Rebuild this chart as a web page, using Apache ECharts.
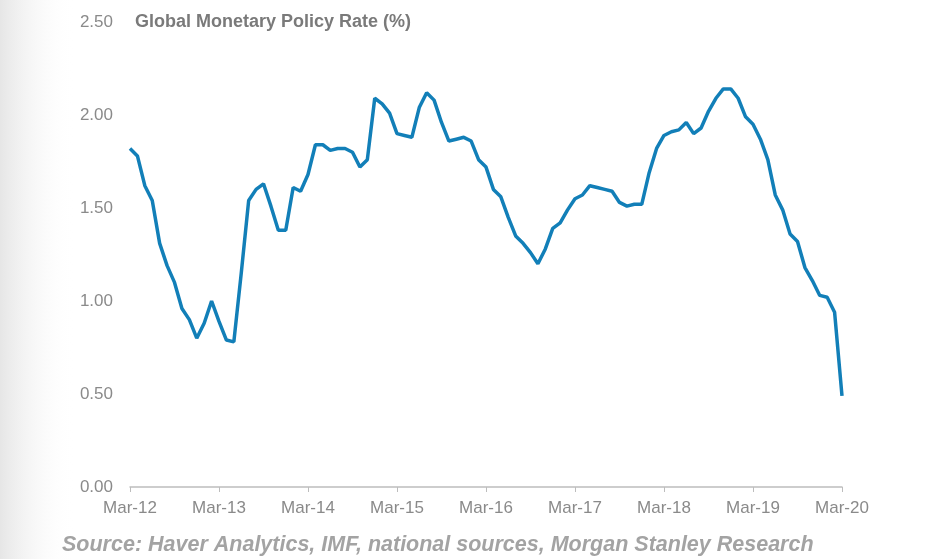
<!DOCTYPE html>
<html>
<head>
<meta charset="utf-8">
<script src="https://cdn.jsdelivr.net/npm/echarts@6/dist/echarts.min.js"></script>
<style>
  html, body { margin: 0; padding: 0; background: #fff; }
  #main { width: 928px; height: 559px; }
</style>
</head>
<body>
<div id="main"></div>
<script>
const monthNames = ['Jan', 'Feb', 'Mar', 'Apr', 'May', 'Jun', 'Jul', 'Aug', 'Sep', 'Oct', 'Nov', 'Dec']

// monthly, Mar-12 .. Mar-20
const rates = [
  1.82, 1.78, 1.62, 1.54, 1.31, 1.19, 1.10, 0.96, 0.90, 0.80, 0.88, 1.00,
  0.89, 0.79, 0.78, 1.15, 1.54, 1.60, 1.63, 1.51, 1.38, 1.38, 1.61, 1.59,
  1.68, 1.84, 1.84, 1.81, 1.82, 1.82, 1.80, 1.72, 1.76, 2.09, 2.06, 2.01,
  1.90, 1.89, 1.88, 2.04, 2.12, 2.08, 1.96, 1.86, 1.87, 1.88, 1.86, 1.76,
  1.72, 1.60, 1.56, 1.45, 1.35, 1.31, 1.26, 1.20, 1.28, 1.39, 1.42, 1.49,
  1.55, 1.57, 1.62, 1.61, 1.60, 1.59, 1.53, 1.51, 1.52, 1.52, 1.69, 1.82,
  1.89, 1.91, 1.92, 1.96, 1.90, 1.93, 2.02, 2.09, 2.14, 2.14, 2.09, 1.99,
  1.95, 1.87, 1.76, 1.57, 1.49, 1.36, 1.32, 1.18, 1.11, 1.03, 1.02, 0.94,
  0.49
]

const titleText = 'Global Monetary Policy Rate (%)'
const sourceText = 'Source: Haver Analytics, IMF, national sources, Morgan Stanley Research'

// build month labels starting at Mar-12
const months = rates.map((v, i) => {
    const m = (2 + i) % 12
    const y = 12 + Math.floor((2 + i) / 12)
    return monthNames[m] + '-' + y
})

const chart = echarts.init(document.getElementById('main'))

chart.setOption({
    backgroundColor: '#fff',
    animation: false,
    graphic: [
        {
            type: 'rect',
            left: 0, top: 0,
            shape: { width: 75, height: 559 },
            style: {
                fill: new echarts.graphic.LinearGradient(0, 0, 1, 0, [
                    { offset: 0, color: '#e6e6e6' },
                    { offset: 1, color: 'rgba(255,255,255,0)' }
                ])
            },
            silent: true
        },
        {
            type: 'text',
            left: 135, top: 13,
            style: {
                text: titleText,
                fill: '#7a7a7a',
                font: 'bold 18px "Liberation Sans", Arial, sans-serif'
            }
        },
        {
            type: 'text',
            left: 62, top: 534,
            style: {
                text: sourceText,
                fill: '#a3a3a3',
                font: 'italic bold 21.5px "Liberation Sans", Arial, sans-serif'
            }
        }
    ],
    grid: { left: 130, right: 86, top: 22, bottom: 72 },
    xAxis: {
        type: 'category',
        data: months,
        boundaryGap: false,
        axisLine: { lineStyle: { color: '#bdbdbd', width: 1.5 } },
        axisTick: {
            length: 5,
            interval: i => i % 12 === 0,
            lineStyle: { color: '#bdbdbd' }
        },
        axisLabel: {
            interval: i => i % 12 === 0,
            color: '#8a8a8a',
            fontSize: 17,
            fontFamily: '"Liberation Sans", Arial, sans-serif',
            margin: 13
        },
        splitLine: { show: false }
    },
    yAxis: {
        type: 'value',
        min: 0,
        max: 2.5,
        interval: 0.5,
        axisLine: { show: false },
        axisTick: { show: false },
        splitLine: { show: false },
        axisLabel: {
            formatter: v => v.toFixed(2),
            color: '#8a8a8a',
            fontSize: 17,
            fontFamily: '"Liberation Sans", Arial, sans-serif',
            margin: 17
        }
    },
    series: [{
        type: 'line',
        data: rates,
        showSymbol: false,
        lineStyle: { color: '#127fb8', width: 3.5 },
        itemStyle: { color: '#127fb8' }
    }]
})
</script>
</body>
</html>
